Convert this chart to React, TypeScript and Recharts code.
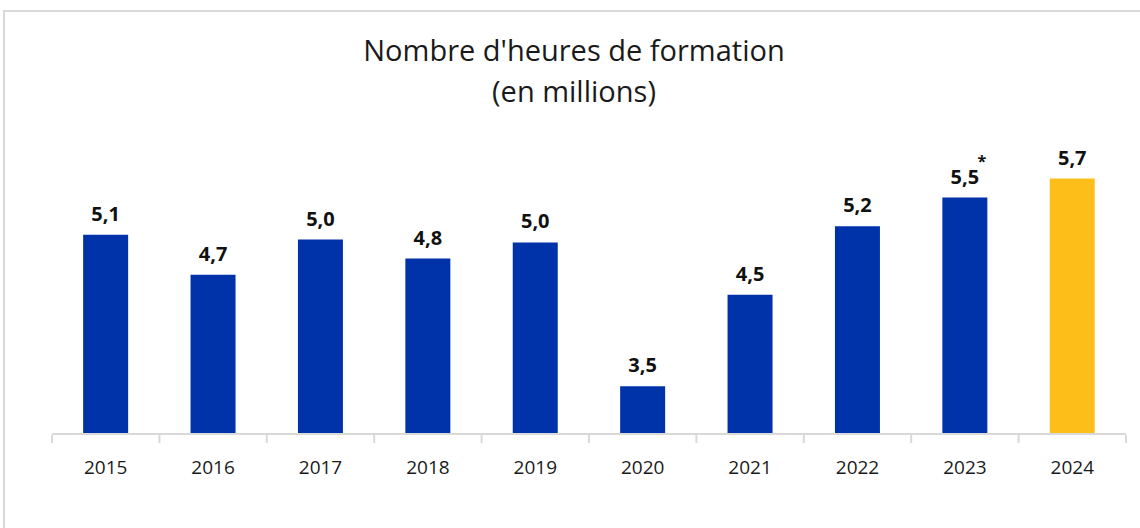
import React from 'react';
import { BarChart, Bar, XAxis, YAxis, Cell, LabelList } from 'recharts';

const years = ['2015', '2016', '2017', '2018', '2019', '2020', '2021', '2022', '2023', '2024'];
const hours = [5.09, 4.67, 5.04, 4.84, 5.01, 3.5, 4.46, 5.18, 5.48, 5.68];
const notes = ['', '', '', '', '', '', '', '', '*', ''];
const barColors = ['#0033AA', '#0033AA', '#0033AA', '#0033AA', '#0033AA', '#0033AA', '#0033AA', '#0033AA', '#0033AA', '#FDBE1A'];
const titleLines = ["Nombre d'heures de formation", '(en millions)'];

const data = years.map((y, i) => ({ year: y, value: hours[i], note: notes[i], color: barColors[i] }));

const FONT = '"Open Sans", "Lato", sans-serif';

const fmt = (v: number) => v.toFixed(1).replace('.', ',');

const ValueLabel = (props: any) => {
  const { x, y, width, value, index } = props;
  const cx = x + width / 2;
  const note = notes[index];
  return (
    <g>
      <text x={cx} y={y - 14} textAnchor="middle" fontFamily={FONT} fontWeight={700} fontSize={20} fill="#111">
        {fmt(value)}
      </text>
      {note ? (
        <text x={cx + 17} y={y - 31} textAnchor="middle" fontFamily={FONT} fontWeight={700} fontSize={16} fill="#111">
          {note}
        </text>
      ) : null}
    </g>
  );
};

export default function App() {
  return (
    <div style={{ position: 'absolute', left: 0, top: 0, width: 1140, height: 528, background: '#fff', overflow: 'hidden' }}>
      <div style={{ position: 'absolute', left: 3, top: 10, width: 1140, height: 530, border: '2px solid #d9d9d9', boxSizing: 'border-box' }} />
      <div style={{ position: 'absolute', left: 0, top: 29, width: 1148, textAlign: 'center', fontFamily: FONT, fontSize: 29, color: '#1a1a1a', lineHeight: '41px' }}>
        {titleLines.map((t) => (
          <div key={t}>{t}</div>
        ))}
      </div>
      <div style={{ position: 'absolute', left: 0, top: 0 }}>
        <BarChart width={1140} height={528} data={data} margin={{ top: 148, right: 14, left: 52, bottom: 64 }} barCategoryGap="29%">
          <YAxis hide domain={[3, 6]} type="number" allowDataOverflow />
          <XAxis
            dataKey="year"
            height={30}
            axisLine={{ stroke: '#d9d9d9', strokeWidth: 2 }}
            tickLine={false}
            interval={0}
            tick={(p: any) => {
              const idx = p.index;
              const step = 1074 / years.length;
              const left = 52 + idx * step;
              return (
                <g>
                  <line x1={left} x2={left} y1={435} y2={443} stroke="#d9d9d9" strokeWidth={2} />
                  {idx === years.length - 1 ? (
                    <line x1={left + step} x2={left + step} y1={435} y2={443} stroke="#d9d9d9" strokeWidth={2} />
                  ) : null}
                  <text x={p.x} y={474} textAnchor="middle" fontFamily={FONT} fontSize={19} fill="#1a1a1a">
                    {p.payload.value}
                  </text>
                </g>
              );
            }}
          />
          <Bar dataKey="value" isAnimationActive={false}>
            {data.map((d) => (
              <Cell key={d.year} fill={d.color} />
            ))}
            <LabelList dataKey="value" content={ValueLabel} />
          </Bar>
        </BarChart>
      </div>
    </div>
  );
}
